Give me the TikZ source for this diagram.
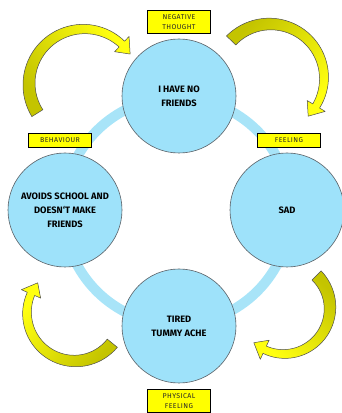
\documentclass[tikz,border=0pt]{standalone}
\usepackage{fontspec}
\setmainfont{Fira Sans}
\newfontfamily\tagfont[LetterSpace=6]{Fira Sans}
\usetikzlibrary{positioning}
\definecolor{RingBlue}{HTML}{A8E4F8}
\definecolor{BubbleBlue}{HTML}{9EE2FA}
\definecolor{BubbleEdge}{HTML}{5A6066}
\definecolor{TagYellow}{HTML}{FFFF00}
\definecolor{ArrowOlive}{HTML}{C4C400}
\definecolor{ArrowYellow}{HTML}{FFFF10}
\tikzset{
  bubble/.style={circle, draw=BubbleEdge, line width=0.6pt, fill=BubbleBlue,
    minimum size=114pt, inner sep=0pt, align=center,
    font=\bfseries\fontsize{9.3}{14}\selectfont},
  tag/.style={draw=black, line width=0.5pt, fill=TagYellow, minimum width=63pt,
    minimum height=14pt, inner sep=2pt, align=center, text=black!85,
    font=\tagfont\fontsize{7}{9.5}\selectfont},
  bendbody/.style={draw=black!70, line width=0.5pt, line join=round},
}
% tapering curved arrow: centre, radius, tail angle, tip angle, shading angle
\newcommand{\bendarrow}[5]{%
  \pgfmathsetmacro{\ba}{#4+13*57.3/#2}%
  \begin{scope}[shift={(#1)}]
    \draw[bendbody, top color=ArrowOlive, bottom color=ArrowYellow, shading angle=#5]
      plot[domain=#3:\ba, samples=40, variable=\t]
        (\t:{#2+6.5-2.5*(\t-#3)/(\ba-#3)})
      -- (\ba:{#2+10.5}) -- (#4:#2) -- (\ba:{#2-10.5})
      -- plot[domain=\ba:#3, samples=40, variable=\t]
        (\t:{#2-6.5+2.5*(\t-#3)/(\ba-#3)})
      -- cycle;
  \end{scope}}

\begin{document}
\begin{tikzpicture}[x=1pt, y=1pt]
  \useasboundingbox (0,0) rectangle (342,413);
  \clip (0,0) rectangle (342,413);
  % ring
  \coordinate (hub) at (177,202);
  \draw[RingBlue, line width=10pt] (hub) circle[radius=113.5];
  % bubbles
  \node[bubble] (thought)   at (179,317) {I HAVE NO\\FRIENDS};
  \node[bubble] (feeling)   at (287,203) {SAD};
  \node[bubble] (physical)  at (179,87)  {TIRED\\TUMMY ACHE};
  \node[bubble] (behaviour) at (65,203)  {AVOIDS SCHOOL AND\\DOESN`T MAKE\\FRIENDS};
  % tags
  \node[tag, minimum height=23pt, above=5pt of thought] (thoughttag) {NEGATIVE\\THOUGHT};
  \node[tag] (feelingtag)   at (289,273) {FEELING};
  \node[tag] (behaviourtag) at (60,273)  {BEHAVIOUR};
  \node[tag, minimum height=23pt, below=6pt of physical] (physicaltag) {PHYSICAL\\FEELING};
  % arrows
  \coordinate (turnA) at (84,329);
  \coordinate (turnB) at (270,335);
  \coordinate (turnC) at (284,105);
  \coordinate (turnD) at (75,100);
  \bendarrow{turnA}{55}{212}{33}{123}
  \bendarrow{turnB}{54}{136}{-45}{46}
  \bendarrow{turnC}{46}{45}{-131}{-43}
  \bendarrow{turnD}{48}{-39}{-219}{-129}
\end{tikzpicture}
\end{document}
